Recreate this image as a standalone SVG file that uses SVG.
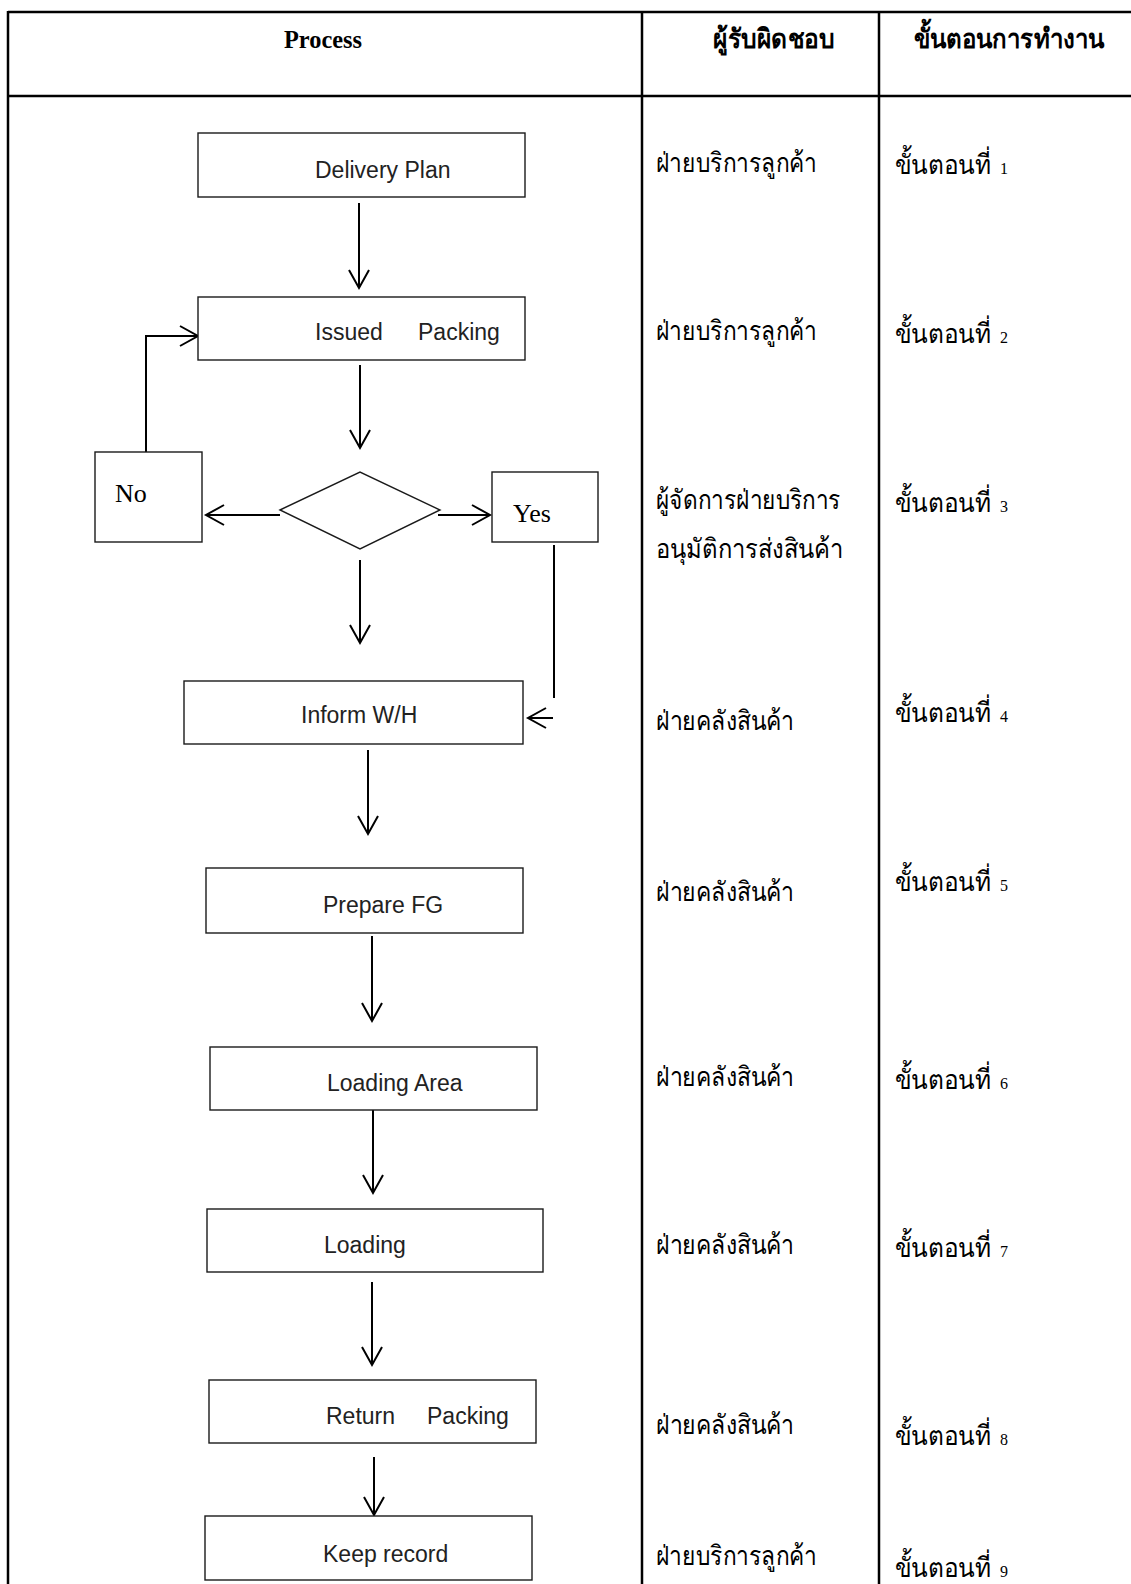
<svg xmlns="http://www.w3.org/2000/svg" width="1131" height="1584" viewBox="0 0 1131 1584">
  <style>
    .grid { stroke: #000; stroke-width: 2.5; fill: none; }
    .box { fill: #fff; stroke: #1a1a1a; stroke-width: 1.4; }
    .conn { stroke: #000; stroke-width: 2; fill: none; }
    .lbl { font-family: "Liberation Sans", Arial, sans-serif; font-size: 23px; fill: #222; }
    .yn { font-family: "Liberation Serif", "Times New Roman", serif; font-size: 26px; fill: #000; }
    .head { font-family: "Liberation Serif", "Times New Roman", serif; font-size: 25px; font-weight: bold; fill: #000; }
    .th { font-family: "Liberation Serif", "DejaVu Serif", serif; font-size: 27px; fill: #000; }
    .num { font-family: "Liberation Serif", "Times New Roman", serif; font-size: 16px; }
  </style>
  <defs>
    <marker id="open" markerUnits="userSpaceOnUse" markerWidth="24" markerHeight="24" viewBox="-20 -12 24 24" refX="0" refY="0" orient="auto">
      <path d="M-18,-10 L0,0 L-18,10" fill="none" stroke="#000" stroke-width="2"/>
    </marker>
  </defs>

  <rect width="1131" height="1584" fill="#fff"/>

  <!-- table frame -->
  <g id="table">
    <line class="grid" x1="8" y1="12" x2="1131" y2="12"/>
    <line class="grid" x1="8" y1="96" x2="1131" y2="96"/>
    <line class="grid" x1="8" y1="11" x2="8" y2="1584"/>
    <line class="grid" x1="642" y1="11" x2="642" y2="1584"/>
    <line class="grid" x1="879" y1="11" x2="879" y2="1584"/>
    <text class="head" x="323" y="48" text-anchor="middle" textLength="78" lengthAdjust="spacingAndGlyphs">Process</text>
    <text class="th" x="713" y="48" font-weight="bold" font-size="28" textLength="121" lengthAdjust="spacingAndGlyphs">ผู้รับผิดชอบ</text>
    <text class="th" x="914" y="48" font-weight="bold" font-size="28" textLength="190" lengthAdjust="spacingAndGlyphs">ขั้นตอนการทำงาน</text>
  </g>

  <!-- connectors -->
  <g id="connectors">
    <line class="conn" x1="359" y1="203" x2="359" y2="288" marker-end="url(#open)"/>
    <line class="conn" x1="360" y1="365" x2="360" y2="448" marker-end="url(#open)"/>
    <line class="conn" x1="280" y1="515" x2="206" y2="515" marker-end="url(#open)"/>
    <line class="conn" x1="438" y1="515" x2="490" y2="515" marker-end="url(#open)"/>
    <line class="conn" x1="360" y1="560" x2="360" y2="643" marker-end="url(#open)"/>
    <polyline class="conn" points="146,452 146,336 198,336" marker-end="url(#open)"/>
    <line class="conn" x1="554" y1="545" x2="554" y2="698"/>
    <line class="conn" x1="553" y1="718" x2="528" y2="718" marker-end="url(#open)"/>
    <line class="conn" x1="368" y1="750" x2="368" y2="834" marker-end="url(#open)"/>
    <line class="conn" x1="372" y1="936" x2="372" y2="1021" marker-end="url(#open)"/>
    <line class="conn" x1="373" y1="1108" x2="373" y2="1193" marker-end="url(#open)"/>
    <line class="conn" x1="372" y1="1282" x2="372" y2="1365" marker-end="url(#open)"/>
    <line class="conn" x1="374" y1="1457" x2="374" y2="1515" marker-end="url(#open)"/>
  </g>

  <!-- process nodes -->
  <g id="delivery-plan">
    <rect class="box" x="198" y="133" width="327" height="64"/>
    <text class="lbl" x="315" y="178">Delivery Plan</text>
  </g>
  <g id="issued-packing">
    <rect class="box" x="198" y="297" width="327" height="63"/>
    <text class="lbl" y="340"><tspan x="315">Issued</tspan><tspan x="418">Packing</tspan></text>
  </g>
  <g id="approve">
    <polygon class="box" points="280,510 360,472 440,510 360,549"/>
  </g>
  <g id="no">
    <rect class="box" x="95" y="452" width="107" height="90"/>
    <text class="yn" x="115" y="502">No</text>
  </g>
  <g id="yes">
    <rect class="box" x="492" y="472" width="106" height="70"/>
    <text class="yn" x="513" y="522">Yes</text>
  </g>
  <g id="inform-wh">
    <rect class="box" x="184" y="681" width="339" height="63"/>
    <text class="lbl" x="301" y="723">Inform W/H</text>
  </g>
  <g id="prepare-fg">
    <rect class="box" x="206" y="868" width="317" height="65"/>
    <text class="lbl" x="323" y="913">Prepare FG</text>
  </g>
  <g id="loading-area">
    <rect class="box" x="210" y="1047" width="327" height="63"/>
    <text class="lbl" x="327" y="1091">Loading Area</text>
  </g>
  <g id="loading">
    <rect class="box" x="207" y="1209" width="336" height="63"/>
    <text class="lbl" x="324" y="1253">Loading</text>
  </g>
  <g id="return-packing">
    <rect class="box" x="209" y="1380" width="327" height="63"/>
    <text class="lbl" y="1424"><tspan x="326">Return</tspan><tspan x="427">Packing</tspan></text>
  </g>
  <g id="keep-record">
    <rect class="box" x="205" y="1516" width="327" height="64"/>
    <text class="lbl" x="323" y="1562">Keep record</text>
  </g>

  <!-- responsible units -->
  <g id="owners">
    <text class="th" x="656" y="172" textLength="161" lengthAdjust="spacingAndGlyphs">ฝ่ายบริการลูกค้า</text>
    <text class="th" x="656" y="340" textLength="161" lengthAdjust="spacingAndGlyphs">ฝ่ายบริการลูกค้า</text>
    <text class="th" x="656" y="509" textLength="185" lengthAdjust="spacingAndGlyphs">ผู้จัดการฝ่ายบริการ</text>
    <text class="th" x="656" y="558" textLength="187" lengthAdjust="spacingAndGlyphs">อนุมัติการส่งสินค้า</text>
    <text class="th" x="656" y="730" textLength="138" lengthAdjust="spacingAndGlyphs">ฝ่ายคลังสินค้า</text>
    <text class="th" x="656" y="901" textLength="138" lengthAdjust="spacingAndGlyphs">ฝ่ายคลังสินค้า</text>
    <text class="th" x="656" y="1086" textLength="138" lengthAdjust="spacingAndGlyphs">ฝ่ายคลังสินค้า</text>
    <text class="th" x="656" y="1254" textLength="138" lengthAdjust="spacingAndGlyphs">ฝ่ายคลังสินค้า</text>
    <text class="th" x="656" y="1434" textLength="138" lengthAdjust="spacingAndGlyphs">ฝ่ายคลังสินค้า</text>
    <text class="th" x="656" y="1565" textLength="161" lengthAdjust="spacingAndGlyphs">ฝ่ายบริการลูกค้า</text>
  </g>

  <!-- step numbers -->
  <g id="steps">
    <text class="th" y="174"><tspan x="895" textLength="96" lengthAdjust="spacingAndGlyphs">ขั้นตอนที่</tspan><tspan class="num" x="1000">1</tspan></text>
    <text class="th" y="343"><tspan x="895" textLength="96" lengthAdjust="spacingAndGlyphs">ขั้นตอนที่</tspan><tspan class="num" x="1000">2</tspan></text>
    <text class="th" y="512"><tspan x="895" textLength="96" lengthAdjust="spacingAndGlyphs">ขั้นตอนที่</tspan><tspan class="num" x="1000">3</tspan></text>
    <text class="th" y="722"><tspan x="895" textLength="96" lengthAdjust="spacingAndGlyphs">ขั้นตอนที่</tspan><tspan class="num" x="1000">4</tspan></text>
    <text class="th" y="891"><tspan x="895" textLength="96" lengthAdjust="spacingAndGlyphs">ขั้นตอนที่</tspan><tspan class="num" x="1000">5</tspan></text>
    <text class="th" y="1089"><tspan x="895" textLength="96" lengthAdjust="spacingAndGlyphs">ขั้นตอนที่</tspan><tspan class="num" x="1000">6</tspan></text>
    <text class="th" y="1257"><tspan x="895" textLength="96" lengthAdjust="spacingAndGlyphs">ขั้นตอนที่</tspan><tspan class="num" x="1000">7</tspan></text>
    <text class="th" y="1445"><tspan x="895" textLength="96" lengthAdjust="spacingAndGlyphs">ขั้นตอนที่</tspan><tspan class="num" x="1000">8</tspan></text>
    <text class="th" y="1577"><tspan x="895" textLength="96" lengthAdjust="spacingAndGlyphs">ขั้นตอนที่</tspan><tspan class="num" x="1000">9</tspan></text>
  </g>
</svg>
